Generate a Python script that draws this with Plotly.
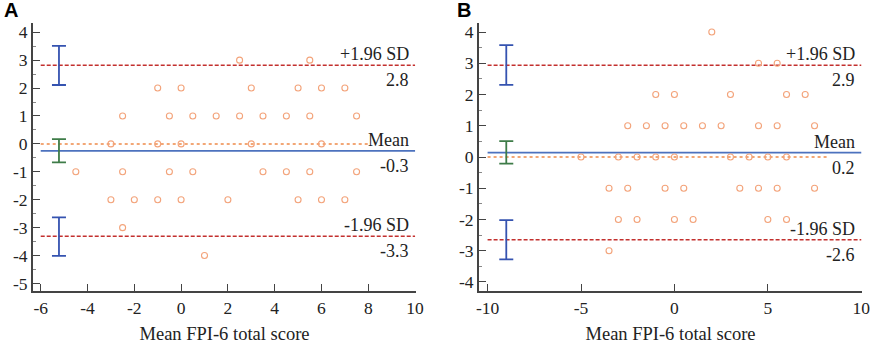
import plotly.graph_objects as go

# ---------------- data ----------------
# Panel A (Bland-Altman points)
a_x = [2.5, 5.5,
       -1, 0, 3, 5, 6, 7,
       -2.5, -0.5, 0.5, 1.5, 2.5, 3.5, 4.5, 5.5, 7.5,
       -3, -1, 0, 3, 6,
       -4.5, -2.5, -0.5, 0.5, 3.5, 4.5, 5.5, 7.5,
       -3, -2, -1, 0, 2, 5, 6, 7,
       -2.5,
       1]
a_y = [3, 3,
       2, 2, 2, 2, 2, 2,
       1, 1, 1, 1, 1, 1, 1, 1, 1,
       0, 0, 0, 0, 0,
       -1, -1, -1, -1, -1, -1, -1, -1,
       -2, -2, -2, -2, -2, -2, -2, -2,
       -3,
       -4]
a_mean, a_upper, a_lower = -0.25, 2.82, -3.31
a_mean_ci = [-0.66, 0.17]
a_upper_ci = [2.11, 3.51]
a_lower_ci = [-4.01, -2.63]
a_labels = ["+1.96 SD", "2.8", "Mean", "-0.3", "-1.96 SD", "-3.3"]

# Panel B
b_x = [2,
       4.5, 5.5,
       -1, 0, 3, 6, 7,
       -2.5, -1.5, -0.5, 0.5, 1.5, 2.5, 4.5, 5.5, 7.5,
       -5, -3, -2, -1, 0, 3, 4, 5, 6,
       -3.5, -2.5, -0.5, 0.5, 3.5, 4.5, 5.5, 7.5,
       -3, -2, 0, 1, 5, 6,
       -3.5]
b_y = [4,
       3, 3,
       2, 2, 2, 2, 2,
       1, 1, 1, 1, 1, 1, 1, 1, 1,
       0, 0, 0, 0, 0, 0, 0, 0, 0,
       -1, -1, -1, -1, -1, -1, -1, -1,
       -2, -2, -2, -2, -2, -2,
       -3]
b_mean, b_upper, b_lower = 0.14, 2.94, -2.65
b_mean_ci = [-0.21, 0.51]
b_upper_ci = [2.31, 3.58]
b_lower_ci = [-3.28, -2.02]
b_labels = ["+1.96 SD", "2.9", "Mean", "0.2", "-1.96 SD", "-2.6"]

a_xticks = [-6, -4, -2, 0, 2, 4, 6, 8, 10]
a_yticks = [-5, -4, -3, -2, -1, 0, 1, 2, 3, 4]
b_xticks = [-10, -5, 0, 5, 10]
b_yticks = [-4, -3, -2, -1, 0, 1, 2, 3, 4]
x_title = "Mean FPI-6 total score"

# ---------------- styling ----------------
SERIF = "Liberation Serif"
C_PT = "#F3A37A"
C_ZERO = "#EE8A4A"
C_MEAN = "#4C72BE"
C_SD = "#C3302E"
C_CI = "#3553B0"
C_CI_MEAN = "#3E7C48"
AX = "#444444"

fig = go.Figure()


def add_panel(xs, ys, mean, upper, lower, mean_ci, upper_ci, lower_ci,
              labels, x0, x_zero_end, ci_x, xa, ya):
    xr = "x" if xa == 1 else "x%d" % xa
    yr = "y" if ya == 1 else "y%d" % ya
    # zero line (dotted orange)
    fig.add_trace(go.Scatter(x=[x0, x_zero_end], y=[0, 0], mode="lines",
                             line=dict(color=C_ZERO, width=1.5, dash="dot"),
                             xaxis=xr, yaxis=yr, hoverinfo="skip"))
    # limits of agreement
    for v in (upper, lower):
        fig.add_trace(go.Scatter(x=[x0, 10], y=[v, v], mode="lines",
                                 line=dict(color=C_SD, width=1.5, dash="4px,2px"),
                                 xaxis=xr, yaxis=yr, hoverinfo="skip"))
    # mean
    fig.add_trace(go.Scatter(x=[x0, 10], y=[mean, mean], mode="lines",
                             line=dict(color=C_MEAN, width=1.6),
                             xaxis=xr, yaxis=yr, hoverinfo="skip"))
    # confidence intervals
    for val, ci, col in ((upper, upper_ci, C_CI), (mean, mean_ci, C_CI_MEAN),
                         (lower, lower_ci, C_CI)):
        fig.add_trace(go.Scatter(
            x=[ci_x], y=[val], mode="markers",
            marker=dict(size=1, opacity=0),
            error_y=dict(type="data", symmetric=False,
                         array=[ci[1] - val], arrayminus=[val - ci[0]],
                         color=col, thickness=1.8, width=7),
            xaxis=xr, yaxis=yr, hoverinfo="skip"))
    # points
    fig.add_trace(go.Scatter(x=xs, y=ys, mode="markers",
                             marker=dict(symbol="circle-open", size=6,
                                         color=C_PT, line=dict(width=1.1, color=C_PT)),
                             xaxis=xr, yaxis=yr))
    # labels
    xd = ("x domain" if xa == 1 else "x%d domain" % xa)
    for (txt, yv, anchor) in ((labels[0], upper, "bottom"), (labels[1], upper, "top"),
                              (labels[2], mean, "bottom"), (labels[3], mean, "top"),
                              (labels[4], lower, "bottom"), (labels[5], lower, "top")):
        fig.add_annotation(x=1, y=yv, xref=xd, yref=yr, text=txt,
                           showarrow=False, xanchor="right", yanchor=anchor,
                           xshift=-5, yshift=(-1 if anchor == "bottom" else -3),
                           font=dict(family=SERIF, size=18, color="#222222"))


add_panel(a_x, a_y, a_mean, a_upper, a_lower, a_mean_ci, a_upper_ci, a_lower_ci,
          a_labels, -6, 8.0, -5.22, 1, 1)
add_panel(b_x, b_y, b_mean, b_upper, b_lower, b_mean_ci, b_upper_ci, b_lower_ci,
          b_labels, -10, 8.25, -9.0, 2, 2)

W, H = 872, 344
y_dom = [(H - 291) / H, (H - 23) / H]


def xaxis(dom, rng, ticks):
    return dict(domain=dom, range=rng, tickvals=ticks, ticktext=[str(t) for t in ticks],
                automargin=False,
                showline=True, linecolor=AX, linewidth=2, ticks="inside", ticklen=7,
                tickwidth=1.2, tickcolor=AX, showgrid=False, zeroline=False,
                tickfont=dict(family=SERIF, size=17.5, color="#222222"),
                title=dict(text=x_title, standoff=15,
                           font=dict(family=SERIF, size=18.5, color="#222222")))


def yaxis(rng, ticks, anchor):
    return dict(domain=y_dom, range=rng, tickvals=ticks, ticktext=[str(t) for t in ticks],
                anchor=anchor, showline=True, linecolor=AX, linewidth=2,
                automargin=False,
                ticks="inside", ticklen=7, tickwidth=1.2, tickcolor=AX,
                minor=dict(dtick=0.5, tick0=0, ticks="inside", ticklen=3,
                           tickcolor="#888888", tickwidth=1),
                showgrid=False, zeroline=False,
                tickfont=dict(family=SERIF, size=17.5, color="#222222"))


fig.update_layout(
    width=W, height=H, margin=dict(l=0, r=0, t=0, b=0),
    paper_bgcolor="white", plot_bgcolor="white", showlegend=False,
    xaxis=dict(xaxis([33 / W, 416 / W], [-6.33, 10.04], a_xticks), anchor="y"),
    yaxis=yaxis([-5.27, 4.33], a_yticks, "x"),
    xaxis2=dict(xaxis([479 / W, 862 / W], [-10.46, 10.04], b_xticks), anchor="y2"),
    yaxis2=yaxis([-4.29, 4.29], b_yticks, "x2"),
)

fig.add_annotation(x=2 / W, y=1.0, xref="paper", yref="paper", text="<b>A</b>",
                   showarrow=False, xanchor="left", yanchor="top", yshift=3,
                   font=dict(family="Liberation Sans", size=20, color="black"))
fig.add_annotation(x=455 / W, y=1.0, xref="paper", yref="paper", text="<b>B</b>",
                   showarrow=False, xanchor="left", yanchor="top", yshift=3,
                   font=dict(family="Liberation Sans", size=20, color="black"))

fig.write_html("out.html", config={"displayModeBar": False},
               post_script="document.body.style.margin='0';")
